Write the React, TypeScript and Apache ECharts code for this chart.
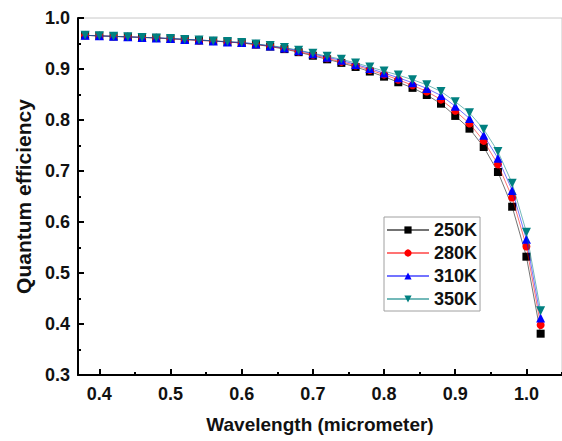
import React, { useEffect, useRef } from "react";
import * as echarts from "echarts";

// Wavelength sample points (micrometer)
const wavelengths = [
  0.38, 0.4, 0.42, 0.44, 0.46, 0.48, 0.5, 0.52, 0.54, 0.56, 0.58, 0.6, 0.62,
  0.64, 0.66, 0.68, 0.7, 0.72, 0.74, 0.76, 0.78, 0.8, 0.82, 0.84, 0.86, 0.88,
  0.9, 0.92, 0.94, 0.96, 0.98, 1.0, 1.02,
];

// Quantum efficiency at each temperature
const qe250 = [
  0.966, 0.965, 0.964, 0.963, 0.962, 0.961, 0.959, 0.958, 0.956, 0.955, 0.953,
  0.951, 0.948, 0.944, 0.939, 0.933, 0.926, 0.919, 0.912, 0.904, 0.895, 0.885,
  0.874, 0.863, 0.849, 0.832, 0.808, 0.783, 0.747, 0.698, 0.63, 0.532, 0.381,
];
const qe280 = [
  0.966, 0.965, 0.964, 0.963, 0.962, 0.961, 0.959, 0.958, 0.956, 0.955, 0.953,
  0.951, 0.948, 0.945, 0.94, 0.934, 0.928, 0.921, 0.914, 0.907, 0.898, 0.889,
  0.879, 0.868, 0.856, 0.84, 0.818, 0.793, 0.759, 0.713, 0.648, 0.552, 0.398,
];
const qe310 = [
  0.966, 0.965, 0.964, 0.963, 0.962, 0.961, 0.96, 0.958, 0.957, 0.955, 0.953,
  0.952, 0.949, 0.945, 0.941, 0.936, 0.93, 0.923, 0.917, 0.909, 0.901, 0.892,
  0.883, 0.873, 0.862, 0.848, 0.827, 0.803, 0.77, 0.725, 0.662, 0.566, 0.412,
];
const qe350 = [
  0.966, 0.965, 0.964, 0.963, 0.962, 0.961, 0.96, 0.958, 0.957, 0.955, 0.954,
  0.952, 0.949, 0.946, 0.942, 0.937, 0.931, 0.925, 0.919, 0.912, 0.904, 0.896,
  0.888, 0.879, 0.869, 0.856, 0.836, 0.814, 0.782, 0.738, 0.676, 0.58, 0.426,
];

const seriesNames = ["250K", "280K", "310K", "350K"];
const xMajorTicks = [0.4, 0.5, 0.6, 0.7, 0.8, 0.9, 1.0];
const xMinorTicks = [0.45, 0.55, 0.65, 0.75, 0.85, 0.95, 1.05];

const FONT = "'Liberation Sans', Arial, sans-serif";

export default function App() {
  const ref = useRef<HTMLDivElement>(null);

  useEffect(() => {
    if (!ref.current) return;
    const chart = echarts.init(ref.current, undefined, { renderer: "svg" });

    const zip = (ys: number[]) => wavelengths.map((x, i) => [x, ys[i]]);
    const styles = [
      { color: "#000000", symbol: "rect", size: 8, rotate: 0 },
      { color: "#ff0000", symbol: "circle", size: 8, rotate: 0 },
      { color: "#0000ff", symbol: "triangle", size: 9, rotate: 0 },
      { color: "#008080", symbol: "triangle", size: 9, rotate: 180 },
    ];
    const values = [qe250, qe280, qe310, qe350];

    chart.setOption({
      animation: false,
      backgroundColor: "#ffffff",
      textStyle: { fontFamily: FONT },
      grid: {
        left: 78,
        right: -2,
        top: 18,
        bottom: 66,
        show: true,
        borderColor: "#c8c8c8",
        borderWidth: 1,
      },
      legend: {
        orient: "vertical",
        left: 384,
        top: 217,
        itemWidth: 42,
        itemHeight: 9,
        itemGap: 5,
        padding: [4, 3, 3, 2],
        borderColor: "#a0a0a0",
        borderWidth: 1,
        backgroundColor: "#ffffff",
        textStyle: {
          fontFamily: FONT,
          fontWeight: "bold",
          fontSize: 18,
          color: "#111",
        },
        data: seriesNames,
      },
      xAxis: [
        {
          type: "value",
          min: 0.37,
          max: 1.05,
          name: "Wavelength (micrometer)",
          nameLocation: "middle",
          nameGap: 40,
          nameTextStyle: {
            fontFamily: FONT,
            fontWeight: "bold",
            fontSize: 19,
            color: "#111",
          },
          axisLine: { lineStyle: { color: "#000", width: 2 } },
          axisTick: {
            inside: true,
            length: 6,
            lineStyle: { color: "#000", width: 2 },
            customValues: xMajorTicks,
          },
          axisLabel: {
            customValues: xMajorTicks,
            margin: 10,
            fontFamily: FONT,
            fontWeight: "bold",
            fontSize: 18,
            color: "#111",
            formatter: (v: number) => v.toFixed(1),
          },
          splitLine: { show: false },
        },
        {
          type: "value",
          min: 0.37,
          max: 1.05,
          position: "bottom",
          axisLine: { show: false },
          axisTick: {
            inside: true,
            length: 3,
            lineStyle: { color: "#000", width: 2 },
            customValues: xMinorTicks,
          },
          axisLabel: { show: false, customValues: xMinorTicks },
          splitLine: { show: false },
        },
      ],
      yAxis: {
        type: "value",
        min: 0.3,
        max: 1.0,
        interval: 0.1,
        name: "Quantum efficiency",
        nameLocation: "middle",
        nameGap: 44,
        nameTextStyle: {
          fontFamily: FONT,
          fontWeight: "bold",
          fontSize: 21,
          color: "#111",
        },
        axisLine: { show: true, lineStyle: { color: "#000", width: 2 } },
        axisTick: {
          inside: true,
          length: 6,
          lineStyle: { color: "#000", width: 2 },
        },
        minorTick: {
          show: true,
          splitNumber: 2,
          length: 3,
          lineStyle: { color: "#000", width: 2 },
        },
        axisLabel: {
          margin: 8,
          fontFamily: FONT,
          fontWeight: "bold",
          fontSize: 18,
          color: "#111",
          formatter: (v: number) => v.toFixed(1),
        },
        splitLine: { show: false },
      },
      series: values.map((ys, i) => ({
        name: seriesNames[i],
        type: "line",
        xAxisIndex: 0,
        data: zip(ys),
        symbol: styles[i].symbol,
        symbolSize: styles[i].size,
        symbolRotate: styles[i].rotate,
        showAllSymbol: true,
        color: styles[i].color,
        itemStyle: { color: styles[i].color },
        lineStyle: { color: styles[i].color, width: 1, opacity: 0.55 },
        z: 2 + i,
      })),
    });

    return () => chart.dispose();
  }, []);

  return (
    <div
      ref={ref}
      style={{ position: "absolute", left: 0, top: 0, width: 562, height: 441 }}
    />
  );
}
